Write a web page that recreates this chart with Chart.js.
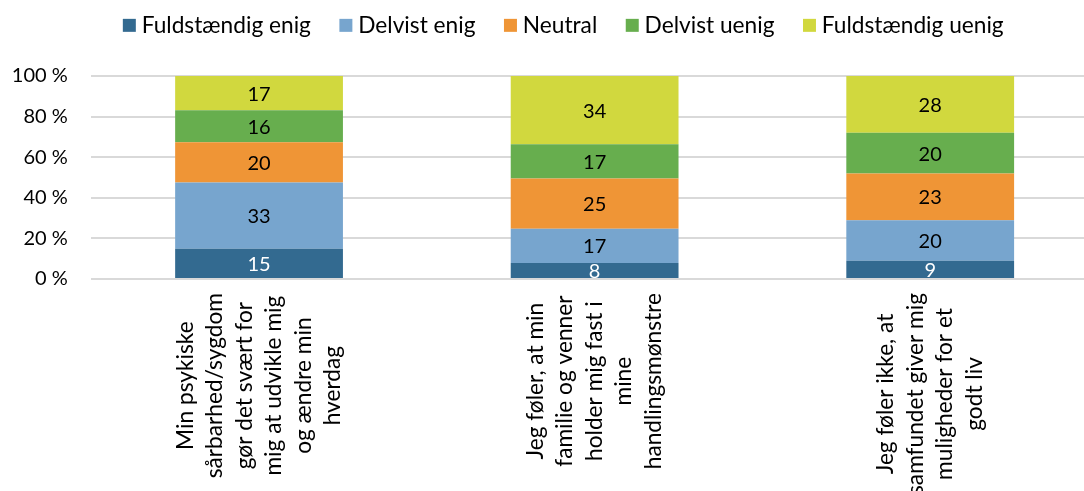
<!DOCTYPE html>
<html><head><meta charset="utf-8">
<script src="https://cdn.jsdelivr.net/npm/chart.js@4/dist/chart.umd.min.js"></script>
<style>
html,body{margin:0;padding:0;overflow:hidden;background:#fff;width:1084px;height:491px}
#wrap{position:absolute;left:0;top:0;width:1098px;height:491px}
</style>
</head><body><div id="wrap"><canvas id="c" width="1098" height="491"></canvas></div>
<script>
const categories = [
  ["Min psykiske","sårbarhed/sygdom","gør det svært for","mig at udvikle mig","og ændre min","hverdag"],
  ["Jeg føler, at min","familie og venner","holder mig fast i","mine","handlingsmønstre"],
  ["Jeg føler ikke, at","samfundet giver mig","muligheder for et","godt liv"]
];
const seriesNames = ["Fuldstændig enig","Delvist enig","Neutral","Delvist uenig","Fuldstændig uenig"];
const fuldstaendigEnig  = [15, 8, 9];
const delvistEnig       = [33, 17, 20];
const neutral           = [20, 25, 23];
const delvistUenig      = [16, 17, 20];
const fuldstaendigUenig = [17, 34, 28];
const yTickValues = [0, 20, 40, 60, 80, 100];
const yTickSuffix = " %";

const seriesValues = [fuldstaendigEnig, delvistEnig, neutral, delvistUenig, fuldstaendigUenig];
const seriesColors = ["#336A90", "#77A5CE", "#EF9536", "#67AE4E", "#D1D83E"];
const labelColors  = ["#FFFFFF", "#000000", "#000000", "#000000", "#000000"];

const FONT = "Lato";
const totals = categories.map((_, i) => seriesValues.reduce((s, arr) => s + arr[i], 0));

const datasets = seriesNames.map((name, k) => ({
  label: name,
  data: seriesValues[k].map((v, i) => v / totals[i] * 100),
  raw: seriesValues[k],
  backgroundColor: seriesColors[k],
  borderWidth: 0,
  barPercentage: 0.5,
  categoryPercentage: 1.0
}));

const layoutFix = {
  id: 'layoutFix',
  beforeLayout(chart) {
    const lg = chart.legend;
    if (lg && !lg.__fixed) {
      const fit = lg.fit.bind(lg);
      lg.fit = function () { fit(); this.height = 76; };
      lg.__fixed = true;
    }
  },
  afterLayout(chart) {
    const lg = chart.legend;
    if (lg) { lg.top -= 20; lg.bottom -= 20; lg.left += 17; lg.right += 17; }
  }
};

const valueLabels = {
  id: 'valueLabels',
  afterDatasetsDraw(chart) {
    const ctx = chart.ctx, a = chart.chartArea;
    ctx.save();
    ctx.beginPath();
    ctx.rect(a.left, a.top, a.right - a.left, a.bottom - a.top);
    ctx.clip();
    ctx.font = "20px " + FONT;
    ctx.textAlign = "center";
    ctx.textBaseline = "middle";
    chart.data.datasets.forEach((ds, k) => {
      chart.getDatasetMeta(k).data.forEach((bar, i) => {
        ctx.fillStyle = labelColors[k];
        ctx.fillText(String(ds.raw[i]), bar.x, (bar.y + bar.base) / 2 + 1);
      });
    });
    ctx.restore();
  }
};

const xLabels = {
  id: 'xLabels',
  afterDraw(chart) {
    const ctx = chart.ctx, xs = chart.scales.x;
    ctx.save();
    ctx.font = "22.7px " + FONT;
    ctx.fillStyle = "#000";
    ctx.textAlign = "center";
    ctx.textBaseline = "middle";
    const lh = 29.5;
    categories.forEach((lines, i) => {
      const x = xs.getPixelForTick(i);
      const maxW = Math.max(...lines.map(l => ctx.measureText(l).width));
      ctx.save();
      ctx.translate(x, 293);
      ctx.rotate(-Math.PI / 2);
      lines.forEach((l, j) => {
        ctx.fillText(l, -maxW / 2, (j - (lines.length - 1) / 2) * lh);
      });
      ctx.restore();
    });
    ctx.restore();
  }
};

new Chart(document.getElementById('c'), {
  type: 'bar',
  data: { labels: categories.map(c => c.join(" ")), datasets },
  options: {
    responsive: false,
    animation: false,
    devicePixelRatio: 1,
    layout: { padding: 0 },
    plugins: {
      legend: {
        position: 'top',
        align: 'center',
        labels: {
          usePointStyle: true,
          pointStyle: 'rect',
          boxWidth: 2,
          boxHeight: 13,
          padding: 34,
          color: '#000',
          font: { family: FONT, size: 22.7 }
        }
      },
      tooltip: { enabled: false }
    },
    scales: {
      x: {
        stacked: true,
        grid: { display: false },
        border: { display: false },
        ticks: { display: false },
        afterFit(s) { s.height = 212; }
      },
      y: {
        stacked: true,
        min: 0, max: 100,
        afterBuildTicks(s) { s.ticks = yTickValues.map(v => ({ value: v })); },
        afterFit(s) { s.width = 91.25; },
        grid: { color: '#D9D9D9', lineWidth: 2, drawTicks: false },
        border: { display: false },
        ticks: {
          padding: 23.5,
          color: '#000',
          font: { family: FONT, size: 20 },
          callback: v => v + yTickSuffix
        }
      }
    }
  },
  plugins: [layoutFix, valueLabels, xLabels]
});
</script>
</body></html>
